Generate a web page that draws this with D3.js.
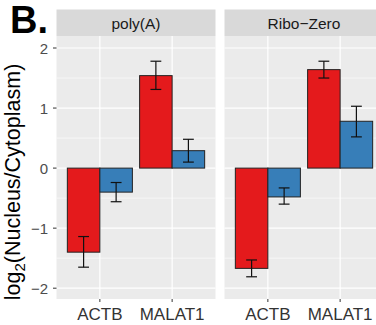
<!DOCTYPE html>
<html><head><meta charset="utf-8">
<script src="https://cdn.jsdelivr.net/npm/d3@7"></script>
<style>body{margin:0;background:#fff;}svg{display:block;font-family:"Liberation Sans",Arial,sans-serif;}</style>
</head><body>
<script>
const panels = ["poly(A)", "Ribo\u2212Zero"];
const genes = ["ACTB", "MALAT1"];
const fractions = ["A", "B"];
// values per panel: [gene][fraction]
const means = [[[-1.40, -0.40], [1.54, 0.29]], [[-1.67, -0.48], [1.64, 0.78]]];
const lows  = [[[-1.65, -0.56], [1.31, 0.10]], [[-1.81, -0.60], [1.50, 0.52]]];
const highs = [[[-1.14, -0.24], [1.78, 0.48]], [[-1.53, -0.33], [1.78, 1.03]]];
const yTicks = [-2, -1, 0, 1, 2];
const yMinor = [-1.5, -0.5, 0.5, 1.5];
const colors = ["#e41a1c", "#377eb8"];

const W = 376, H = 325;
const svg = d3.select("body").append("svg").attr("width", W).attr("height", H);
const panelW = 159, panelTop = 36, panelBot = 299;
const panelX = [56.5, 224.5];
const y = d3.scaleLinear().domain([-2.18, 2.2]).range([panelBot, panelTop]);
// continuous mapping emulating ggplot discrete: positions 1,2 in [0.4,2.6]
const xl = d3.scaleLinear().domain([0.4, 2.6]).range([0, panelW]);
const unit = xl(2) - xl(1);
const dodge = d3.scaleBand().domain(fractions).range([-0.45 * unit, 0.45 * unit]);

panels.forEach((p, pi) => {
  const g = svg.append("g").attr("transform", `translate(${panelX[pi]},0)`);
  // strip
  g.append("rect").attr("x", 0).attr("y", 9.5).attr("width", panelW).attr("height", panelTop - 9.5).attr("fill", "#d9d9d9");
  g.append("text").attr("x", panelW / 2).attr("y", 28.5).attr("text-anchor", "middle")
    .attr("font-size", 15.5).attr("fill", "#1a1a1a").text(p);
  // panel bg
  g.append("rect").attr("x", 0).attr("y", panelTop).attr("width", panelW).attr("height", panelBot - panelTop).attr("fill", "#ebebeb");
  g.selectAll(".minor").data(yMinor).join("line")
    .attr("x1", 0).attr("x2", panelW).attr("y1", d => y(d)).attr("y2", d => y(d))
    .attr("stroke", "#fff").attr("stroke-width", 0.6);
  g.selectAll(".major").data(yTicks).join("line")
    .attr("x1", 0).attr("x2", panelW).attr("y1", d => y(d)).attr("y2", d => y(d))
    .attr("stroke", "#fff").attr("stroke-width", 1.2);
  g.selectAll(".vmaj").data(genes).join("line")
    .attr("x1", (d, i) => xl(i + 1)).attr("x2", (d, i) => xl(i + 1))
    .attr("y1", panelTop).attr("y2", panelBot)
    .attr("stroke", "#fff").attr("stroke-width", 1.2);
  // bars
  genes.forEach((gene, gi) => {
    fractions.forEach((f, fi) => {
      const cx = xl(gi + 1) + dodge(f);
      const v = means[pi][gi][fi];
      g.append("rect").attr("x", cx).attr("width", dodge.bandwidth())
        .attr("y", y(Math.max(0, v))).attr("height", Math.abs(y(v) - y(0)))
        .attr("fill", colors[fi]).attr("stroke", "#222").attr("stroke-width", 1);
      const mx = cx + dodge.bandwidth() / 2;
      const cap = 0.075 * unit;
      const e = g.append("g").attr("stroke", "#111").attr("stroke-width", 1.2);
      e.append("line").attr("x1", mx).attr("x2", mx).attr("y1", y(lows[pi][gi][fi])).attr("y2", y(highs[pi][gi][fi]));
      e.append("line").attr("x1", mx - cap).attr("x2", mx + cap).attr("y1", y(lows[pi][gi][fi])).attr("y2", y(lows[pi][gi][fi]));
      e.append("line").attr("x1", mx - cap).attr("x2", mx + cap).attr("y1", y(highs[pi][gi][fi])).attr("y2", y(highs[pi][gi][fi]));
    });
  });
  // x axis ticks & labels
  genes.forEach((gene, gi) => {
    g.append("line").attr("x1", xl(gi + 1)).attr("x2", xl(gi + 1)).attr("y1", panelBot).attr("y2", panelBot + 3)
      .attr("stroke", "#333").attr("stroke-width", 1);
    g.append("text").attr("x", xl(gi + 1)).attr("y", 320).attr("text-anchor", "middle")
      .attr("font-size", 17).attr("fill", "#333").text(gene);
  });
});

// y axis ticks
const ya = svg.append("g");
yTicks.forEach(t => {
  ya.append("line").attr("x1", 53).attr("x2", 56.5).attr("y1", y(t)).attr("y2", y(t)).attr("stroke", "#333");
  ya.append("text").attr("x", 48).attr("y", y(t) + 5.5).attr("text-anchor", "end")
    .attr("font-size", 15).attr("fill", "#4d4d4d").text(t < 0 ? "\u2212" + Math.abs(t) : t);
});
// y title
const yt = svg.append("text").attr("transform", "translate(20,182) rotate(-90)")
  .attr("text-anchor", "middle").attr("font-size", 21.5).attr("fill", "#000");
yt.append("tspan").text("log");
yt.append("tspan").attr("font-size", 15).attr("dy", 5).text("2");
yt.append("tspan").attr("dy", -5).text("(Nucleus/Cytoplasm)");
// panel label
svg.append("text").attr("x", 10).attr("y", 33).attr("font-size", 38).attr("font-weight", "bold").attr("fill", "#000").text("B.");
</script>
</body></html>
